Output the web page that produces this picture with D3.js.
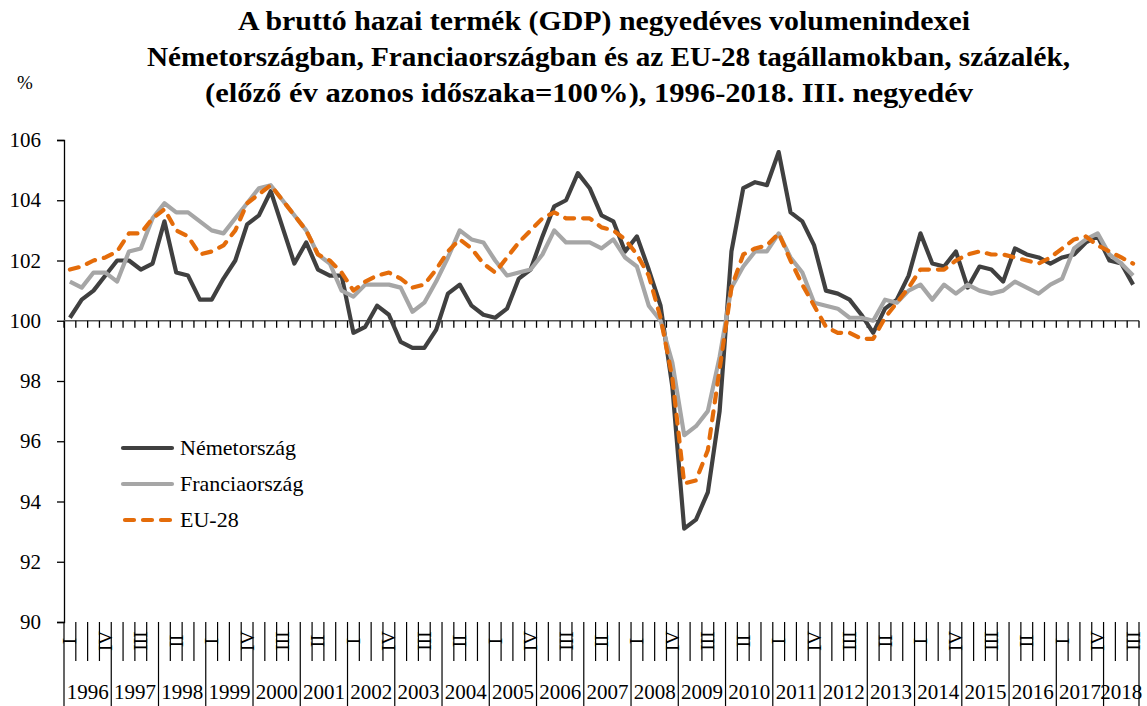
<!DOCTYPE html>
<html><head><meta charset="utf-8">
<script src="https://cdn.jsdelivr.net/npm/d3@7"></script>
<style>
html,body{margin:0;padding:0;background:#fff;}
svg text{font-family:"Liberation Serif","DejaVu Serif",serif;fill:#000;}
</style></head>
<body>
<svg id="chart" width="1147" height="706"></svg>
<script>
const titleLines = [
  "A bruttó hazai termék (GDP) negyedéves volumenindexei",
  "Németországban, Franciaországban és az EU-28 tagállamokban, százalék,",
  "(előző év azonos időszaka=100%), 1996-2018. III. negyedév"
];
const years = ["1996","1997","1998","1999","2000","2001","2002","2003","2004","2005","2006","2007","2008","2009","2010","2011","2012","2013","2014","2015","2016","2017","2018"];
const quarterNames = ["I","II","III","IV"];
const yTicks = [90,92,94,96,98,100,102,104,106];
const seriesNames = ["Németország","Franciaország","EU-28"];

const germany = [100.1,100.7,101.0,101.5, 102.0,102.0,101.7,101.9, 103.3,101.6,101.5,100.7, 100.7,101.4,102.0,103.2,
  103.5,104.3,103.1,101.9, 102.6,101.7,101.5,101.5, 99.6,99.8,100.5,100.2, 99.3,99.1,99.1,99.7,
  100.9,101.2,100.5,100.2, 100.1,100.4,101.4,101.7, 102.8,103.8,104.0,104.9, 104.4,103.5,103.3,102.3,
  102.8,101.7,100.5,97.8, 93.1,93.4,94.3,97.0, 102.3,104.4,104.6,104.5, 105.6,103.6,103.3,102.5,
  101.0,100.9,100.7,100.2, 99.6,100.4,100.7,101.5, 102.9,101.9,101.8,102.3, 101.1,101.8,101.7,101.3,
  102.4,102.2,102.1,101.9, 102.1,102.2,102.6,102.8, 102.0,101.9,101.2];
const france = [101.3,101.1,101.6,101.6, 101.3,102.3,102.4,103.4, 103.9,103.6,103.6,103.3, 103.0,102.9,103.4,103.9,
  104.4,104.5,104.0,103.5, 103.0,102.2,101.9,101.0, 100.8,101.2,101.2,101.2, 101.1,100.3,100.6,101.3,
  102.1,103.0,102.7,102.6, 102.0,101.5,101.6,101.7, 102.2,103.0,102.6,102.6, 102.6,102.4,102.7,102.1,
  101.8,100.5,100.0,98.6, 96.2,96.5,97.0,98.8, 101.1,101.8,102.3,102.3, 102.9,102.1,101.6,100.6,
  100.5,100.4,100.1,100.1, 100.0,100.7,100.6,101.0, 101.2,100.7,101.2,100.9, 101.2,101.0,100.9,101.0,
  101.3,101.1,100.9,101.2, 101.4,102.4,102.7,102.9, 102.2,101.9,101.5];
const eu28 = [101.7,101.8,102.0,102.1, 102.3,102.9,102.9,103.4, 103.7,103.0,102.8,102.2, 102.3,102.5,103.0,103.9,
  104.2,104.5,104.0,103.5, 103.0,102.2,102.0,101.6, 101.0,101.3,101.5,101.6, 101.4,101.1,101.2,101.7,
  102.3,102.7,102.4,101.9, 101.6,102.1,102.6,103.0, 103.4,103.6,103.4,103.4, 103.4,103.1,103.0,102.7,
  102.2,101.5,100.1,98.1, 94.6,94.7,95.7,98.4, 101.1,102.2,102.4,102.5, 102.9,102.0,101.2,100.5,
  99.8,99.6,99.6,99.4, 99.4,100.1,100.6,101.1, 101.7,101.7,101.7,102.0, 102.2,102.3,102.2,102.2,
  102.1,102.0,101.9,102.1, 102.4,102.7,102.8,102.5, 102.3,102.1,101.9];

const colors = ["#404040","#A6A6A6","#E46C0A"];
const series = [germany, france, eu28];
const nQ = germany.length;
const quarters = d3.range(nQ);

const svg = d3.select("#chart");
const pLeft = 64, pRight = 1139, pTop = 140, pBottom = 622;

const x = d3.scaleBand().domain(quarters).range([pLeft, pRight]).paddingInner(0).paddingOuter(0);
const y = d3.scaleLinear().domain([90,106]).range([pBottom, pTop]);

// Title
const titleG = svg.append("g");
const titleSpec = [{x0:238,x1:970,yb:30},{x0:147,x1:1070,yb:66},{x0:205,x1:973,yb:102}];
titleLines.forEach((t,i)=>{
  titleG.append("text").attr("x",titleSpec[i].x0).attr("y",titleSpec[i].yb)
    .attr("font-size",27).attr("font-weight","bold")
    .attr("textLength",titleSpec[i].x1-titleSpec[i].x0).attr("lengthAdjust","spacingAndGlyphs")
    .text(t);
});

// % label
svg.append("text").attr("x",25).attr("y",89).attr("text-anchor","middle").attr("font-size",19).text("%");

// Y axis
const yAxis = d3.axisLeft(y).tickValues(yTicks).tickSize(7).tickPadding(16).tickFormat(d3.format("d"));
const yg = svg.append("g").attr("transform",`translate(${pLeft},0)`).call(yAxis);
yg.select(".domain").attr("stroke","#000").attr("stroke-width",1.3);
yg.selectAll(".tick line").attr("stroke","#000").attr("stroke-width",1.3);
yg.selectAll(".tick text").attr("font-size",21).attr("font-family","Liberation Serif");

// Horizontal axis at 100
svg.append("line").attr("x1",pLeft).attr("x2",pRight).attr("y1",y(100)).attr("y2",y(100))
  .attr("stroke","#555").attr("stroke-width",1.5);
svg.append("g").selectAll("line").data(d3.range(nQ+1)).join("line")
  .attr("x1",d=> d<nQ ? x(d) : pRight).attr("x2",d=> d<nQ ? x(d) : pRight)
  .attr("y1",y(100)).attr("y2",y(100)+7).attr("stroke","#000").attr("stroke-width",1.3);

// Category band below
const bandTop = pBottom, bandMid = 661, bandBot = 706;
svg.append("g").selectAll("line").data(d3.range(nQ+1)).join("line")
  .attr("x1",d=> d<nQ ? x(d) : pRight).attr("x2",d=> d<nQ ? x(d) : pRight)
  .attr("y1",bandTop).attr("y2",d=> (d%4===0 || d===nQ) ? bandBot : bandMid)
  .attr("stroke","#000").attr("stroke-width",1.2);

// Quarter labels (every 3rd)
svg.append("g").selectAll("text").data(quarters.filter(i=>i%3===0)).join("text")
  .attr("transform",i=>`translate(${x(i)+x.bandwidth()/2},641) rotate(-90)`)
  .attr("text-anchor","middle").attr("dominant-baseline","central")
  .attr("font-size",19).text(i=>quarterNames[i%4]);

// Year labels
svg.append("g").selectAll("text").data(years).join("text")
  .attr("x",(d,k)=>{
    const a = x(k*4);
    const b = (k*4+4) < nQ ? x(k*4+4) : pRight;
    return (a+b)/2;
  })
  .attr("y",699).attr("text-anchor","middle").attr("font-size",21).text(d=>d);

// Lines
const line = d3.line().x((d,i)=>x(i)+x.bandwidth()/2).y(d=>y(d));
series.forEach((s,k)=>{
  const p = svg.append("path").datum(s).attr("d",line).attr("fill","none")
    .attr("stroke",colors[k]).attr("stroke-width",4.2).attr("stroke-linejoin","round");
  if(k===2){ p.attr("stroke-dasharray","9,9").attr("stroke-linecap","round"); }
});

// Legend
const legY = [448,484,520];
seriesNames.forEach((n,k)=>{
  const l = svg.append("line").attr("x1",123).attr("x2",172).attr("y1",legY[k]).attr("y2",legY[k])
    .attr("stroke",colors[k]).attr("stroke-width",4.2);
  if(k===2){ l.attr("stroke-dasharray","9,9").attr("stroke-linecap","round").attr("x1",125).attr("x2",170); }
  else { l.attr("stroke-linecap","round"); }
  svg.append("text").attr("x",180).attr("y",legY[k]+7).attr("font-size",22).text(n);
});
</script>
</body></html>
